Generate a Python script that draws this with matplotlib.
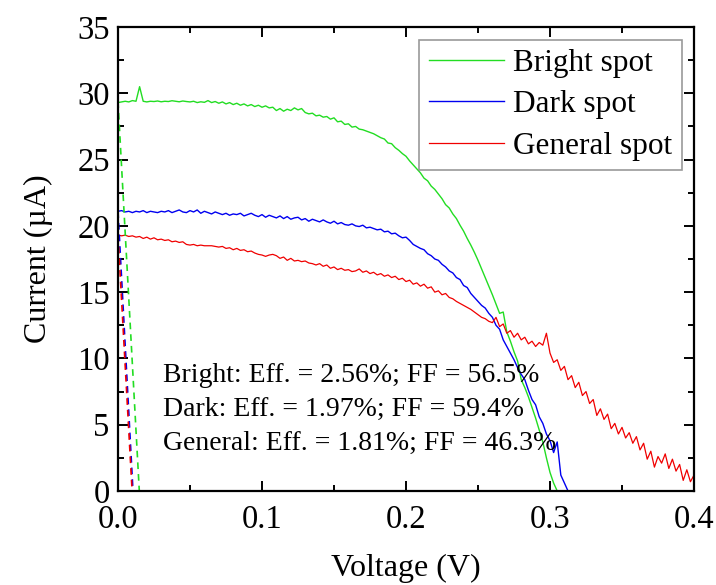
import numpy as np
import matplotlib
matplotlib.use("Agg")
import matplotlib.pyplot as plt
from matplotlib.ticker import MultipleLocator, FuncFormatter

plt.rcParams['font.family'] = ['Liberation Serif', 'DejaVu Serif']

# ---------------- data ----------------
V_STEP = 0.0025  # voltage sweep step (V)

bright_current = [
    29.30, 29.35, 29.40, 29.35, 29.45, 29.40, 30.50, 29.40, 29.35, 29.40,
    29.38, 29.42, 29.36, 29.40, 29.38, 29.44, 29.40, 29.36, 29.42, 29.38,
    29.35, 29.40, 29.30, 29.36, 29.32, 29.45, 29.30, 29.38, 29.25, 29.35,
    29.20, 29.30, 29.15, 29.25, 29.10, 29.20, 29.05, 29.15, 29.00, 29.10,
    28.95, 29.05, 28.90, 28.95, 28.70, 28.85, 28.65, 28.80, 28.70, 28.90,
    28.75, 28.85, 28.55, 28.45, 28.50, 28.30, 28.35, 28.20, 28.25, 28.05,
    28.15, 27.85, 27.90, 27.65, 27.70, 27.45, 27.50, 27.30, 27.25, 27.15,
    27.05, 26.95, 26.80, 26.65, 26.55, 26.25, 26.20, 25.90, 25.70, 25.45,
    25.25, 24.90, 24.60, 24.30, 24.00, 23.60, 23.40, 23.00, 22.75, 22.40,
    22.05, 21.60, 21.35, 20.90, 20.55, 20.05, 19.60, 19.05, 18.55, 18.00,
    17.40, 16.75, 16.10, 15.45, 14.80, 14.10, 13.40, 13.50, 12.00, 11.30,
    10.50, 9.80, 8.40, 7.80, 7.10, 6.30, 5.50, 4.60, 3.70, 2.50,
    1.40, 0.60, 0.00,
]

dark_current = [
    21.10, 21.15, 21.05, 21.10, 21.00, 21.10, 21.05, 21.15, 21.00, 21.10,
    21.05, 21.00, 21.10, 21.05, 21.15, 21.00, 21.10, 21.20, 21.05, 21.00,
    21.15, 21.05, 21.20, 20.95, 21.10, 21.00, 20.90, 21.05, 20.95, 20.85,
    20.95, 20.80, 20.90, 20.85, 20.95, 20.75, 20.85, 20.95, 20.80, 20.70,
    20.85, 20.65, 20.80, 20.70, 20.60, 20.75, 20.55, 20.70, 20.50, 20.60,
    20.65, 20.45, 20.55, 20.35, 20.50, 20.40, 20.30, 20.45, 20.30, 20.20,
    20.35, 20.15, 20.25, 20.10, 20.05, 20.15, 20.00, 19.95, 20.05, 19.85,
    19.90, 19.80, 19.70, 19.75, 19.55, 19.60, 19.40, 19.45, 19.25, 19.10,
    19.15, 18.90, 18.60, 18.45, 18.30, 18.20, 17.90, 17.75, 17.50, 17.40,
    17.10, 16.90, 16.60, 16.45, 16.10, 15.95, 15.50, 15.35, 14.90, 14.60,
    14.30, 14.00, 13.80, 13.40, 13.10, 12.50, 12.20, 11.40, 10.90, 10.40,
    9.90, 9.30, 8.80, 8.40, 7.60, 6.90, 6.50, 5.60, 5.10, 4.30,
    3.80, 2.90, 3.70, 1.20, 0.60, 0.00,
]

general_current = [
    19.30, 19.25, 19.30, 19.20, 19.25, 19.15, 19.20, 19.05, 19.15, 19.00,
    19.10, 18.95, 19.00, 18.90, 18.95, 18.80, 18.85, 18.75, 18.80, 18.60,
    18.55, 18.60, 18.50, 18.55, 18.50, 18.50, 18.50, 18.45, 18.40, 18.45,
    18.30, 18.35, 18.20, 18.30, 18.15, 18.20, 18.05, 18.10, 17.95, 17.85,
    17.80, 17.70, 17.80, 17.85, 17.75, 17.55, 17.65, 17.40, 17.55, 17.35,
    17.40, 17.30, 17.35, 17.20, 17.15, 17.05, 17.15, 16.95, 17.05, 16.80,
    16.90, 16.70, 16.80, 16.65, 16.70, 16.55, 16.60, 16.75, 16.50, 16.60,
    16.40, 16.50, 16.30, 16.40, 16.20, 16.30, 16.10, 16.20, 15.95, 16.05,
    15.80, 15.90, 15.60, 15.70, 15.45, 15.60, 15.30, 15.40, 15.00, 15.10,
    14.80, 14.90, 14.60, 14.50, 14.30, 14.15, 14.00, 13.85, 13.70, 13.50,
    13.30, 13.10, 13.00, 12.80, 12.70, 13.10, 12.40, 12.60, 11.90, 12.10,
    11.60, 11.90, 11.40, 11.60, 11.10, 11.30, 10.90, 11.20, 11.00, 11.90,
    10.40, 9.70, 9.90, 9.10, 9.40, 8.40, 8.70, 7.80, 8.20, 7.20,
    7.50, 6.60, 6.90, 5.70, 6.20, 5.40, 5.80, 4.70, 5.10, 4.30,
    4.80, 4.00, 4.40, 3.60, 4.10, 3.10, 3.60, 2.40, 3.00, 1.80,
    2.60, 2.10, 2.80, 1.70, 2.40, 1.50, 2.00, 0.80, 1.60, 0.70,
    1.20, 0.50,
]

# dashed guide lines near V = 0 (start/end points)
bright_dash_v = [0.0, 0.0148]
bright_dash_i = [29.4, 0.0]
dark_dash_v = [0.0, 0.0104]
dark_dash_i = [21.1, 0.0]
general_dash_v = [0.0, 0.0098]
general_dash_i = [19.3, 0.0]

labels = ["Bright spot", "Dark spot", "General spot"]
colors = ["#22DD22", "#0000F0", "#F00000"]
annotations = [
    "Bright: Eff. = 2.56%; FF = 56.5%",
    "Dark: Eff. = 1.97%; FF = 59.4%",
    "General: Eff. = 1.81%; FF = 46.3%",
]

# ---------------- figure ----------------
fig = plt.figure(figsize=(7.16, 5.85), dpi=100)
ax = fig.add_axes([0.1648, 0.1607, 0.8045, 0.7931])

series = [bright_current, dark_current, general_current]
widths = [1.0, 1.0, 0.9]
for cur, lab, col, w in zip(series, labels, colors, widths):
    v = np.arange(len(cur)) * V_STEP
    ax.plot(v, cur, color=col, lw=w, label=lab)

for dv, di, col in zip([bright_dash_v, dark_dash_v, general_dash_v],
                       [bright_dash_i, dark_dash_i, general_dash_i], colors):
    ax.plot(dv, di, color=col, lw=1.2, ls=(0, (4, 3)))

ax.set_xlim(0, 0.4)
ax.set_ylim(0, 35)
ax.xaxis.set_major_locator(MultipleLocator(0.1))
ax.xaxis.set_minor_locator(MultipleLocator(0.05))
ax.yaxis.set_major_locator(MultipleLocator(5))
ax.yaxis.set_minor_locator(MultipleLocator(2.5))
ax.xaxis.set_major_formatter(FuncFormatter(lambda x, p: f"{x:.1f}"))

ax.tick_params(which='both', direction='in', top=True, right=True, width=1.4,
               labelsize=23.5)
ax.tick_params(which='major', length=7)
ax.tick_params(axis='x', which='major', pad=10)
ax.tick_params(axis='y', which='major', pad=6)
ax.tick_params(which='minor', length=4)
for s in ax.spines.values():
    s.set_linewidth(1.6)

ax.set_xlabel("Voltage (V)", fontsize=23, labelpad=13)
ax.set_ylabel("Current (\u00b5A)", fontsize=23, labelpad=17)

leg = ax.legend(loc='upper right', fontsize=22.5, frameon=True, fancybox=False,
                edgecolor='#808080', handlelength=2.4, handletextpad=0.3,
                borderpad=0.3, labelspacing=0.4, borderaxespad=0.4)
leg.get_frame().set_linewidth(1.2)

for k, txt in enumerate(annotations):
    ax.text(0.0315, 8.2 - k * 2.55, txt, fontsize=20, ha='left',
            va='baseline')

fig.savefig("out.png", dpi=100)
